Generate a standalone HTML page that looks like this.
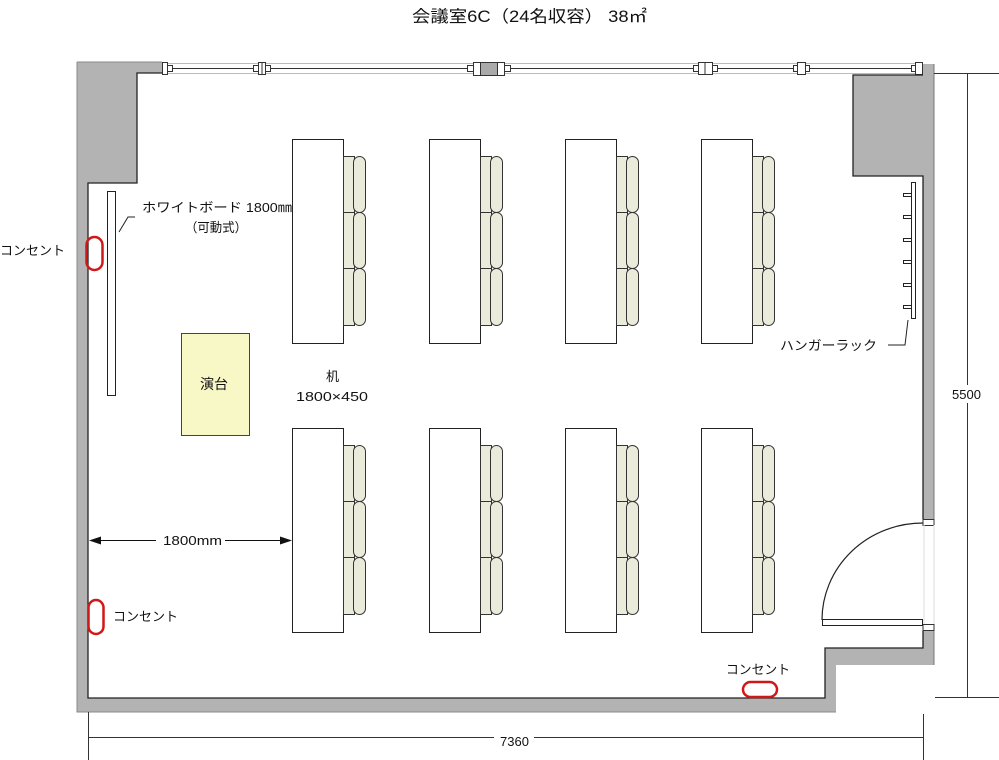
<!DOCTYPE html>
<html><head><meta charset="utf-8"><style>
html,body{margin:0;padding:0;background:#fff;}
svg{display:block;}
text{font-family:"Liberation Sans","Noto Sans CJK JP",sans-serif;fill:#111;}
</style></head><body>
<svg width="999" height="760" viewBox="0 0 999 760" xmlns="http://www.w3.org/2000/svg">
<rect width="999" height="760" fill="#fff"/>

<!-- Title -->
<text x="412" y="22" font-size="16.5" textLength="235" lengthAdjust="spacingAndGlyphs">会議室6C（24名収容） 38㎡</text>

<!-- Window along top -->
<line x1="162" y1="63.5" x2="920" y2="63.5" stroke="#bbb" stroke-width="1"/>
<line x1="162" y1="68.5" x2="920" y2="68.5" stroke="#333" stroke-width="1"/>
<line x1="162" y1="73.5" x2="920" y2="73.5" stroke="#bbb" stroke-width="1"/>
<g fill="#fff" stroke="#333" stroke-width="1">
  <rect x="162.5" y="62.5" width="5" height="12"/>
  <rect x="167.5" y="65.5" width="5" height="6"/>
  <rect x="253.5" y="65.5" width="5" height="6"/>
  <rect x="258.5" y="62.5" width="7" height="12"/>
  <line x1="262" y1="62.5" x2="262" y2="74.5"/>
  <rect x="265.5" y="65.5" width="5" height="6"/>
  <rect x="467.5" y="65.5" width="6" height="6"/>
  <rect x="473.5" y="62.5" width="31" height="13"/>
  <rect x="480.5" y="62.5" width="17" height="13" fill="#aaa"/>
  <rect x="504.5" y="65.5" width="6" height="6"/>
  <rect x="693.5" y="65.5" width="5" height="6"/>
  <rect x="698.5" y="62.5" width="14" height="12"/>
  <line x1="705" y1="62.5" x2="705" y2="74.5"/>
  <rect x="712.5" y="65.5" width="5" height="6"/>
  <rect x="793.5" y="65.5" width="4" height="6"/>
  <rect x="797.5" y="62.5" width="8" height="12"/>
  <rect x="805.5" y="65.5" width="4" height="6"/>
  <rect x="911.5" y="65.5" width="4" height="6"/>
  <rect x="915.5" y="62.5" width="7" height="12"/>
</g>

<!-- Walls -->
<path d="M77,62 L162,62 L162,73 L137,73 L137,183 L88,183 L88,698 L825,698 L825,648 L923,648 L923,631 L934,631 L934,665 L836,665 L836,712 L77,712 Z" fill="#b3b3b3"/>
<path d="M162,73 L137,73 L137,183 L88,183 L88,698 L825,698 L825,648 L923,648 L923,631" fill="none" stroke="#222" stroke-width="1.3"/>
<path d="M77,62 L162,62 M77,62 L77,712 L836,712" fill="none" stroke="#888" stroke-width="1"/>
<path d="M853,75 L923,75 L923,64 L934,64 L934,519 L923,519 L923,176 L853,176 Z" fill="#b3b3b3"/>
<path d="M923,519 L923,176 L853,176 L853,75 L923,75" fill="none" stroke="#222" stroke-width="1.3"/>
<path d="M934,64 L934,519 M934,631 L934,665" fill="none" stroke="#777" stroke-width="1"/>

<!-- Door -->
<rect x="923" y="519.5" width="11" height="6" fill="#fff" stroke="#333" stroke-width="1"/>
<rect x="923" y="624.5" width="11" height="6" fill="#fff" stroke="#333" stroke-width="1"/>
<line x1="924" y1="525" x2="924" y2="624" stroke="#ddd" stroke-width="1"/>
<line x1="934" y1="525" x2="934" y2="624" stroke="#ddd" stroke-width="1"/>
<rect x="822.5" y="619.5" width="100" height="6" fill="#fff" stroke="#222" stroke-width="1"/>
<path d="M822,620 A101,97 0 0 1 923,523" fill="none" stroke="#222" stroke-width="1.2"/>

<!-- Dimension lines -->
<line x1="934" y1="73.5" x2="999" y2="73.5" stroke="#333" stroke-width="1"/>
<line x1="935" y1="697.5" x2="999" y2="697.5" stroke="#333" stroke-width="1"/>
<line x1="967.5" y1="73" x2="967.5" y2="697" stroke="#333" stroke-width="1"/>
<rect x="950" y="385" width="36" height="18" fill="#fff"/>
<text x="952" y="399" font-size="13">5500</text>

<line x1="88.5" y1="712" x2="88.5" y2="760" stroke="#333" stroke-width="1"/>
<line x1="923.5" y1="714" x2="923.5" y2="760" stroke="#333" stroke-width="1"/>
<line x1="88" y1="737.5" x2="923" y2="737.5" stroke="#333" stroke-width="1"/>
<rect x="494" y="730" width="40" height="18" fill="#fff"/>
<text x="500" y="746" font-size="13">7360</text>

<!-- Whiteboard -->
<rect x="107.5" y="191.5" width="8" height="204" fill="#fff" stroke="#222" stroke-width="1"/>
<path d="M119,232 L128,217 L135,217" fill="none" stroke="#222" stroke-width="1"/>
<text x="142" y="212" font-size="13" textLength="150" lengthAdjust="spacingAndGlyphs">ホワイトボード 1800㎜</text>
<text x="185" y="232" font-size="13" textLength="62" lengthAdjust="spacingAndGlyphs">（可動式）</text>

<!-- Outlets -->
<rect x="86.5" y="237" width="16" height="33" rx="8" fill="none" stroke="#d01818" stroke-width="2.5"/>
<text x="0" y="255" font-size="13" textLength="65" lengthAdjust="spacingAndGlyphs">コンセント</text>
<rect x="88.5" y="600" width="15" height="34" rx="7.5" fill="none" stroke="#d01818" stroke-width="2.5"/>
<text x="113" y="621" font-size="13" textLength="65" lengthAdjust="spacingAndGlyphs">コンセント</text>
<rect x="743" y="682" width="34" height="15" rx="7.5" fill="none" stroke="#d01818" stroke-width="2.5"/>
<text x="726" y="674" font-size="13" textLength="64" lengthAdjust="spacingAndGlyphs">コンセント</text>

<!-- Podium -->
<rect x="181.5" y="333.5" width="68" height="102" fill="#f8f7c6" stroke="#444" stroke-width="1"/>
<text x="200" y="389" font-size="14">演台</text>

<!-- Desk label -->
<text x="326" y="381" font-size="13">机</text>
<text x="296" y="401" font-size="13" textLength="72" lengthAdjust="spacingAndGlyphs">1800×450</text>

<!-- 1800mm arrow -->
<line x1="100" y1="540.5" x2="156" y2="540.5" stroke="#111" stroke-width="1"/>
<line x1="225" y1="540.5" x2="282" y2="540.5" stroke="#111" stroke-width="1"/>
<polygon points="89,540.5 101,536.5 101,544.5" fill="#111"/>
<polygon points="292,540.5 280,536.5 280,544.5" fill="#111"/>
<text x="163" y="545" font-size="13" textLength="59" lengthAdjust="spacingAndGlyphs">1800mm</text>

<!-- Hanger rack -->
<rect x="911.5" y="182.5" width="4" height="136" fill="#fff" stroke="#222" stroke-width="1"/>
<g fill="#fff" stroke="#222" stroke-width="1">
  <rect x="903.5" y="193.5" width="8" height="3"/>
  <rect x="903.5" y="215.5" width="8" height="3"/>
  <rect x="903.5" y="238.5" width="8" height="3"/>
  <rect x="903.5" y="260.5" width="8" height="3"/>
  <rect x="903.5" y="283.5" width="8" height="3"/>
  <rect x="903.5" y="305.5" width="8" height="3"/>
</g>
<path d="M908,320 L905,345 L888,345" fill="none" stroke="#222" stroke-width="1"/>
<text x="780" y="350" font-size="13" textLength="97" lengthAdjust="spacingAndGlyphs">ハンガーラック</text>

<!-- Desks and chairs -->
<defs>
  <g id="unit">
    <rect x="0.5" y="0.5" width="51" height="204" fill="#fff" stroke="#222" stroke-width="1"/>
    <g stroke="#333" stroke-width="1">
      <rect x="51.5" y="17.5" width="11" height="56" fill="#ebebdc"/>
      <rect x="51.5" y="73.5" width="11" height="56" fill="#ebebdc"/>
      <rect x="51.5" y="129.5" width="11" height="57" fill="#ebebdc"/>
      <rect x="61.5" y="17.5" width="12" height="56" rx="6" fill="#ebebdc"/>
      <rect x="61.5" y="73.5" width="12" height="56" rx="6" fill="#ebebdc"/>
      <rect x="61.5" y="129.5" width="12" height="57" rx="6" fill="#ebebdc"/>
    </g>
  </g>
</defs>
<use href="#unit" x="292" y="139"/>
<use href="#unit" x="429" y="139"/>
<use href="#unit" x="565" y="139"/>
<use href="#unit" x="701" y="139"/>
<use href="#unit" x="292" y="428"/>
<use href="#unit" x="429" y="428"/>
<use href="#unit" x="565" y="428"/>
<use href="#unit" x="701" y="428"/>
</svg>
</body></html>
